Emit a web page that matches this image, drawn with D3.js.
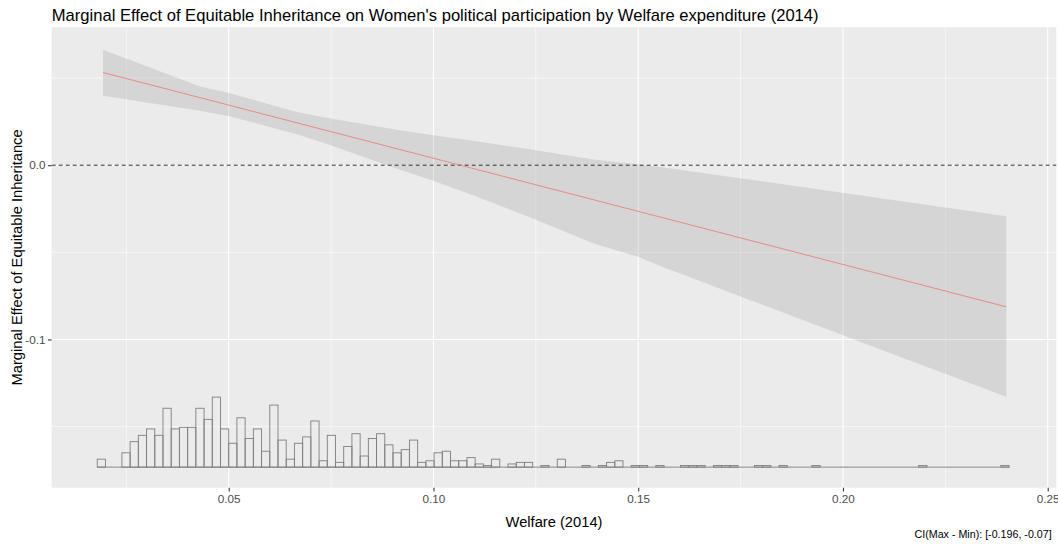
<!DOCTYPE html>
<html>
<head>
<meta charset="utf-8">
<script src="https://cdn.jsdelivr.net/npm/d3@7"></script>
<style>
  html, body { margin: 0; padding: 0; background: #ffffff; }
  svg { display: block; font-family: "Liberation Sans", Arial, Helvetica, sans-serif; }
</style>
</head>
<body>
<svg id="chart" width="1058" height="544"></svg>
<script>
// Welfare expenditure (x) at which the confidence band is evaluated
const bandX     = [0.0193, 0.0430, 0.0501, 0.0666, 0.0749, 0.0918, 0.1000, 0.1100, 0.1249, 0.1391, 0.1500, 0.1554, 0.1800, 0.2100, 0.2399];
const bandUpper = [0.0662, 0.0451, 0.0415, 0.0306, 0.0268, 0.0201, 0.0172, 0.0139, 0.0086, 0.0033, 0.0006, -0.0010, -0.0092, -0.0193, -0.0293];
const bandLower = [0.0398, 0.0312, 0.0281, 0.0178, 0.0115, -0.0026, -0.0090, -0.0175, -0.0312, -0.0449, -0.0526, -0.0579, -0.0798, -0.1065, -0.1329];

// Point estimate of the marginal effect (linear in welfare)
const effectX = [0.0193, 0.2399];
const effectY = [0.0532, -0.0813];

// Distribution of welfare expenditure: equal-width bins
const histStart = 0.0179;
const histBinWidth = 0.002006;
const histCounts = [
  5, 0, 0, 9, 16, 20, 24, 20, 37, 24,
  25, 25, 37, 30, 44, 24, 15, 31, 18, 24,
  10, 39, 17, 5, 15, 19, 29, 4, 20, 3,
  13, 21, 7, 18, 21, 14, 9, 11, 17, 3,
  4, 9, 10, 4, 4, 6, 2, 1, 5, 0,
  2, 3, 3, 0, 1, 0, 5, 0, 0, 1,
  0, 1, 3, 4, 0, 1, 1, 0, 1, 0,
  0, 1, 1, 1, 0, 1, 1, 1, 0, 0,
  1, 1, 0, 1, 0, 0, 0, 1, 0, 0,
  0, 0, 0, 0, 0, 0, 0, 0, 0, 0,
  1, 0, 0, 0, 0, 0, 0, 0, 0, 0,
  1
];

// Axis breaks
const xMajor = [0.05, 0.10, 0.15, 0.20, 0.25];
const xMinor = [0.025, 0.075, 0.125, 0.175, 0.225];
const yMajor = [0.0, -0.1];
const yMinor = [0.05, -0.05, -0.15];
const xTickLabels = ["0.05", "0.10", "0.15", "0.20", "0.25"];
const yTickLabels = ["0.0", "-0.1"];

const titleText = "Marginal Effect of Equitable Inheritance on Women's political participation by Welfare expenditure (2014)";
const xTitle = "Welfare (2014)";
const yTitle = "Marginal Effect of Equitable Inheritance";
const captionText = "CI(Max - Min): [-0.196, -0.07]";

// Layout
const panel = { left: 51.7, top: 27.2, right: 1056.3, bottom: 487.7 };
const histBase = -0.1733;      // y value of the histogram baseline
const histMaxHeight = 0.0402;  // y extent of the tallest bin

const svg = d3.select("#chart");

const x = d3.scaleLinear().domain([0.00677, 0.2521]).range([panel.left, panel.right]);
const y = d3.scaleLinear().domain([-0.1851, 0.0792]).range([panel.bottom, panel.top]);

// Panel background
svg.append("rect")
  .attr("x", panel.left).attr("y", panel.top)
  .attr("width", panel.right - panel.left).attr("height", panel.bottom - panel.top)
  .attr("fill", "#ebebeb");

const grid = svg.append("g");
grid.selectAll(".xminor").data(xMinor).join("line")
  .attr("x1", d => x(d)).attr("x2", d => x(d))
  .attr("y1", panel.top).attr("y2", panel.bottom)
  .attr("stroke", "#ffffff").attr("stroke-width", 0.55);
grid.selectAll(".yminor").data(yMinor).join("line")
  .attr("y1", d => y(d)).attr("y2", d => y(d))
  .attr("x1", panel.left).attr("x2", panel.right)
  .attr("stroke", "#ffffff").attr("stroke-width", 0.55);
grid.selectAll(".xmajor").data(xMajor).join("line")
  .attr("x1", d => x(d)).attr("x2", d => x(d))
  .attr("y1", panel.top).attr("y2", panel.bottom)
  .attr("stroke", "#ffffff").attr("stroke-width", 1.1);
grid.selectAll(".ymajor").data(yMajor).join("line")
  .attr("y1", d => y(d)).attr("y2", d => y(d))
  .attr("x1", panel.left).attr("x2", panel.right)
  .attr("stroke", "#ffffff").attr("stroke-width", 1.1);

// Histogram of the moderator
const unit = histMaxHeight / d3.max(histCounts);
const histG = svg.append("g");
histG.append("line")
  .attr("x1", x(histStart)).attr("x2", x(histStart + histCounts.length * histBinWidth))
  .attr("y1", y(histBase)).attr("y2", y(histBase))
  .attr("stroke", "#7f7f7f").attr("stroke-width", 0.9);
histG.selectAll("rect").data(histCounts.map((c, i) => ({ c, i })).filter(d => d.c > 0)).join("rect")
  .attr("x", d => x(histStart + d.i * histBinWidth))
  .attr("width", d => x(histStart + (d.i + 1) * histBinWidth) - x(histStart + d.i * histBinWidth))
  .attr("y", d => y(histBase + d.c * unit))
  .attr("height", d => y(histBase) - y(histBase + d.c * unit))
  .attr("fill", "none")
  .attr("stroke", "#7f7f7f")
  .attr("stroke-width", 0.9);

// Confidence band
const bandData = bandX.map((v, i) => ({ x: v, lo: bandLower[i], hi: bandUpper[i] }));
svg.append("path").datum(bandData)
  .attr("d", d3.area().x(d => x(d.x)).y0(d => y(d.lo)).y1(d => y(d.hi)))
  .attr("fill", "#7f7f7f").attr("fill-opacity", 0.2);

// Reference line at zero
svg.append("line")
  .attr("x1", panel.left).attr("x2", panel.right)
  .attr("y1", y(0)).attr("y2", y(0))
  .attr("stroke", "#000000").attr("stroke-width", 0.8)
  .attr("stroke-dasharray", "4,3");

// Marginal effect
const effData = effectX.map((v, i) => ({ x: v, y: effectY[i] }));
svg.append("path").datum(effData)
  .attr("d", d3.line().x(d => x(d.x)).y(d => y(d.y)))
  .attr("fill", "none").attr("stroke", "#e8837c").attr("stroke-width", 0.9);

// Axes
const xAxis = d3.axisBottom(x).tickValues(xMajor).tickFormat((d, i) => xTickLabels[i]).tickSize(3.7).tickPadding(3);
const gx = svg.append("g").attr("transform", `translate(0,${panel.bottom})`).call(xAxis);
const yAxis = d3.axisLeft(y).tickValues(yMajor).tickFormat((d, i) => yTickLabels[i]).tickSize(3.7).tickPadding(2.5);
const gy = svg.append("g").attr("transform", `translate(${panel.left},0)`).call(yAxis);
[gx, gy].forEach(g => {
  g.select(".domain").remove();
  g.selectAll(".tick line").attr("stroke", "#333333").attr("stroke-width", 1.07);
  g.selectAll(".tick text").attr("fill", "#4d4d4d").style("font-size", "11.7px")
    .style("font-family", "'Liberation Sans', Arial, sans-serif");
});

// Titles
svg.append("text")
  .attr("x", panel.left).attr("y", 20.7)
  .style("font-size", "16.6px").attr("fill", "#000000")
  .text(titleText);

svg.append("text")
  .attr("x", (panel.left + panel.right) / 2).attr("y", 526.5)
  .attr("text-anchor", "middle")
  .style("font-size", "14.7px").attr("fill", "#000000")
  .text(xTitle);

svg.append("text")
  .attr("transform", `translate(21.5,${(panel.top + panel.bottom) / 2}) rotate(-90)`)
  .attr("text-anchor", "middle")
  .style("font-size", "14.7px").attr("fill", "#000000")
  .text(yTitle);

svg.append("text")
  .attr("x", 1051.7).attr("y", 537.5)
  .attr("text-anchor", "end")
  .style("font-size", "10.7px").attr("fill", "#000000")
  .text(captionText);
</script>
</body>
</html>
